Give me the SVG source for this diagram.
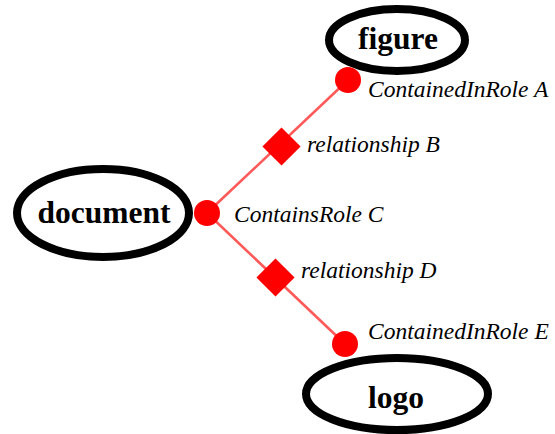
<svg xmlns="http://www.w3.org/2000/svg" width="555" height="434" viewBox="0 0 555 434">
  <style>
    .node { fill: #fff; stroke: #000; stroke-width: 8; }
    .name { font-family: "Liberation Serif", "Times New Roman", serif; font-weight: bold; font-size: 31.5px; fill: #000; text-anchor: middle; }
    .edge { stroke: #ff5a5a; stroke-width: 2.6; fill: none; }
    .role { fill: #ff0000; }
    .rel { fill: #ff0000; }
    .lbl { font-family: "Liberation Serif", "Times New Roman", serif; font-style: italic; font-size: 23.5px; fill: #000; }
  </style>
  <rect width="555" height="434" fill="#fff"/>

  <g id="connectors">
    <line class="edge" x1="207" y1="213" x2="348" y2="80"/>
    <line class="edge" x1="207" y1="213" x2="345" y2="344"/>
  </g>

  <g id="figure">
    <ellipse class="node" cx="397" cy="40" rx="68" ry="31"/>
    <text class="name" x="398" y="49">figure</text>
  </g>

  <g id="document">
    <ellipse class="node" cx="103" cy="213" rx="86" ry="44"/>
    <text class="name" x="104" y="223">document</text>
  </g>

  <g id="logo">
    <ellipse class="node" cx="397" cy="394" rx="91" ry="36"/>
    <text class="name" x="396" y="408">logo</text>
  </g>

  <g id="role-a">
    <circle class="role" cx="348" cy="80" r="13"/>
    <text class="lbl" x="368" y="97">ContainedInRole A</text>
  </g>

  <g id="relationship-b">
    <rect class="rel" x="268" y="133" width="27" height="27" transform="rotate(45 281.5 146.5)"/>
    <text class="lbl" x="307" y="152">relationship B</text>
  </g>

  <g id="role-c">
    <circle class="role" cx="207" cy="213" r="13"/>
    <text class="lbl" x="234" y="222">ContainsRole C</text>
  </g>

  <g id="relationship-d">
    <rect class="rel" x="262" y="264" width="27" height="27" transform="rotate(45 275.5 277.5)"/>
    <text class="lbl" x="301" y="278">relationship D</text>
  </g>

  <g id="role-e">
    <circle class="role" cx="345" cy="344" r="13"/>
    <text class="lbl" x="368" y="339">ContainedInRole E</text>
  </g>
</svg>
